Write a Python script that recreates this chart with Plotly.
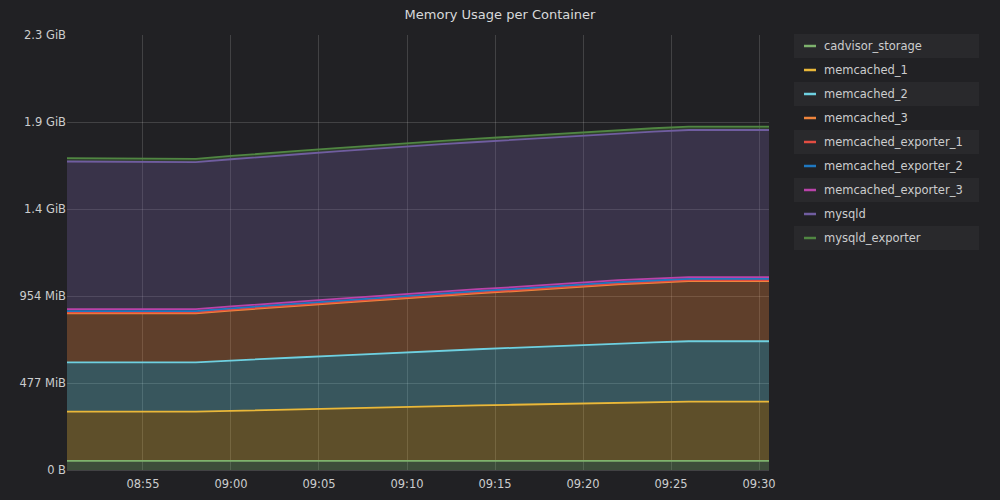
import plotly.graph_objects as go
from datetime import datetime

# ---- data (values in MB, 1 MB = 1e6 bytes) ----
times = ["2018-06-01 08:50:40", "2018-06-01 08:53:00", "2018-06-01 08:56:00", "2018-06-01 08:58:00",
         "2018-06-01 09:00:00", "2018-06-01 09:02:00", "2018-06-01 09:04:00", "2018-06-01 09:06:00",
         "2018-06-01 09:08:00", "2018-06-01 09:10:00", "2018-06-01 09:12:00", "2018-06-01 09:14:00",
         "2018-06-01 09:16:00", "2018-06-01 09:18:00", "2018-06-01 09:20:00", "2018-06-01 09:22:00",
         "2018-06-01 09:24:00", "2018-06-01 09:26:00", "2018-06-01 09:28:00", "2018-06-01 09:30:34"]

cadvisor_storage = [53, 53, 53, 53, 53, 53, 53, 53, 53, 53, 53, 53, 53, 53, 53, 53, 53, 53, 53, 53]
memcached_1 = [282, 282, 282, 282, 287, 292, 296, 300, 305, 310, 314, 318, 322, 326, 330, 334, 337, 340, 340, 340]
memcached_2 = [284, 284, 284, 284, 289, 295, 299, 304, 309, 314, 319, 323, 327, 332, 336, 341, 344, 347, 347, 347]
memcached_3 = [281, 281, 281, 281, 287, 292, 297, 302, 307, 312, 316, 321, 325, 330, 334, 339, 342, 345, 345, 345]
memcached_exporter_1 = [6, 6, 6, 6, 6, 6, 6, 6, 6, 6, 6, 6, 6, 6, 6, 6, 6, 6, 6, 6]
memcached_exporter_2 = [7, 7, 7, 7, 7, 7, 7, 7, 7, 7, 7, 7, 7, 7, 7, 7, 7, 7, 7, 7]
memcached_exporter_3 = [11, 11, 11, 11, 11, 11, 11, 11, 11, 11, 11, 11, 11, 11, 11, 11, 11, 11, 11, 11]
mysqld = [849, 849, 848, 845, 846, 847, 847, 848, 848, 847, 847, 846, 846, 846, 845, 845, 845, 845, 845, 845]
mysqld_exporter = [19, 19, 19, 19, 19, 19, 19, 19, 19, 19, 19, 19, 19, 19, 19, 19, 19, 19, 19, 19]

series_names = ["cadvisor_storage", "memcached_1", "memcached_2", "memcached_3",
                "memcached_exporter_1", "memcached_exporter_2", "memcached_exporter_3",
                "mysqld", "mysqld_exporter"]
series_values = [cadvisor_storage, memcached_1, memcached_2, memcached_3,
                 memcached_exporter_1, memcached_exporter_2, memcached_exporter_3,
                 mysqld, mysqld_exporter]
colors = ["#7EB26D", "#EAB839", "#6ED0E0", "#EF843C", "#E24D42", "#1F78C1", "#BA43A9", "#705DA0", "#508642"]

y_tickvals = [0, 5e8, 1e9, 1.5e9, 2e9, 2.5e9]
y_ticktext = ["0 B", "477 MiB", "954 MiB", "1.4 GiB", "1.9 GiB", "2.3 GiB"]

BG = "#212124"
TEXT = "#cccdce"
FONT = "DejaVu Sans"


def rgba(hx, a):
    h = hx.lstrip("#")
    return "rgba(%d,%d,%d,%s)" % (int(h[0:2], 16), int(h[2:4], 16), int(h[4:6], 16), a)


x = [datetime.strptime(t, "%Y-%m-%d %H:%M:%S") for t in times]

fig = go.Figure()
for name, vals, col in zip(series_names, series_values, colors):
    fig.add_trace(go.Scatter(
        x=x, y=[v * 1e6 for v in vals], name=name, mode="lines",
        stackgroup="one", line=dict(color=col, width=1.8),
        fillcolor=rgba(col, 0.3), showlegend=False,
    ))

# custom legend (Grafana style table)
L_X0, L_X1 = 794, 979
ROW0, ROW_H = 34, 24
W, H = 1000, 500
PX0, PX1, PY0, PY1 = 67, 769, 35, 470
shapes = []
annotations = []


def px(xp):
    return (xp - PX0) / (PX1 - PX0)


def py(yp):
    return 1 - (yp - PY0) / (PY1 - PY0)


for i, (name, col) in enumerate(zip(series_names, colors)):
    top = ROW0 + i * ROW_H
    if i % 2 == 0:
        shapes.append(dict(type="rect", xref="paper", yref="paper",
                           x0=px(L_X0), x1=px(L_X1), y0=py(top + ROW_H), y1=py(top),
                           fillcolor="#29292c", line=dict(width=0), layer="below"))
    cy = top + 12
    shapes.append(dict(type="line", xref="paper", yref="paper",
                       x0=px(804), x1=px(816), y0=py(cy), y1=py(cy),
                       line=dict(color=col, width=2.5)))
    annotations.append(dict(text=name, xref="paper", yref="paper",
                            x=px(822), y=py(cy),
                            xanchor="left", yanchor="middle", showarrow=False,
                            font=dict(family=FONT, size=11.5, color=TEXT)))

fig.update_layout(
    width=W, height=H,
    paper_bgcolor=BG, plot_bgcolor=BG,
    margin=dict(l=PX0, r=W - PX1, t=PY0, b=H - PY1),
    title=dict(text="Memory Usage per Container", x=0.5, xanchor="center", y=0.972, yanchor="middle",
               font=dict(family=FONT, size=13, color="#d8d9da")),
    font=dict(family=FONT, size=11.5, color=TEXT),
    shapes=shapes, annotations=annotations,
    showlegend=False,
    hovermode="x",
)
fig.update_xaxes(
    type="date", automargin=False,
    range=[datetime(2018, 6, 1, 8, 50, 41), datetime(2018, 6, 1, 9, 30, 34)],
    tickformat="%H:%M", dtick=5 * 60 * 1000, tick0=datetime(2018, 6, 1, 8, 55),
    showgrid=True, gridcolor="rgba(255,255,255,0.15)", gridwidth=1,
    zeroline=False, showline=True, linecolor="rgba(255,255,255,0.15)",
    ticks="", ticklabelstandoff=3, tickfont=dict(family=FONT, size=11.5, color=TEXT),
)
fig.update_yaxes(
    range=[0, 2.5e9], tickvals=y_tickvals, ticktext=y_ticktext, automargin=False,
    showgrid=True, gridcolor="rgba(255,255,255,0.15)", gridwidth=1,
    zeroline=False, showline=False, ticks="",
    tickfont=dict(family=FONT, size=11.5, color=TEXT),
)

fig.write_html(
    "out.html",
    config={"displayModeBar": False},
    post_script="document.body.style.margin='0';document.body.style.background='" + BG + "';",
)
